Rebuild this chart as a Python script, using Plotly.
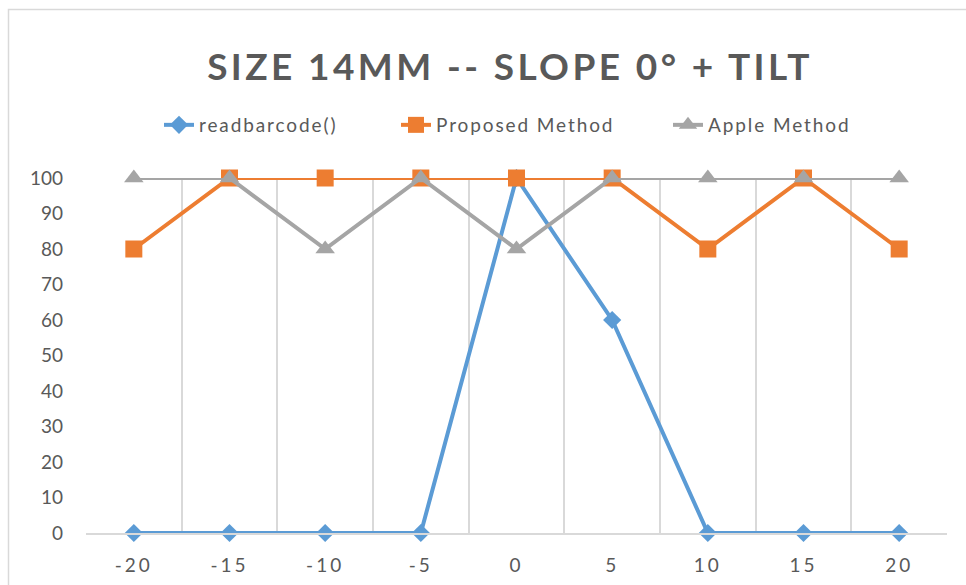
import plotly.graph_objects as go

# Tilt angles (degrees) and read success rates (%)
angles = [-20, -15, -10, -5, 0, 5, 10, 15, 20]
readbarcode = [0, 0, 0, 0, 100, 60, 0, 0, 0]
proposed = [80, 100, 100, 100, 100, 100, 80, 100, 80]
apple = [100, 100, 80, 100, 80, 100, 100, 100, 100]
y_ticks = [0, 10, 20, 30, 40, 50, 60, 70, 80, 90, 100]

TEXT = "#595959"
GRID = "#D9D9D9"
FONT = "Lato, 'Open Sans', sans-serif"

cats = [str(a) for a in angles]

W, H = 966, 585
L, R, T, B = 86, 19, 178, 52
pw, ph = W - L - R, H - T - B


def px_x(x):
    return (x - L) / pw


def px_y(y):
    return (H - B - y) / ph


# name, values, colour, marker, marker size, legend id, legend left edge (px)
series = [
    ("readbarcode()", readbarcode, "#5B9BD5", "diamond", 14, "legend", 159),
    ("Proposed Method", proposed, "#ED7D31", "square", 17, "legend2", 396),
    ("Apple Method", apple, "#A5A5A5", "triangle-up", 17, "legend3", 668),
]

fig = go.Figure()
for name, vals, color, symbol, size, leg, _ in series:
    fig.add_trace(go.Scatter(
        x=cats, y=vals, name=name, mode="lines+markers",
        line=dict(color=color, width=4),
        marker=dict(symbol=symbol, size=size, color=color, line=dict(width=0)),
        cliponaxis=False, legend=leg,
    ))

legend_style = dict(
    orientation="h", xanchor="left", y=px_y(125), yanchor="middle",
    font=dict(size=19, color=TEXT, family=FONT),
    bgcolor="rgba(0,0,0,0)", borderwidth=0,
    entrywidth=230, entrywidthmode="pixels",
)
legends = {leg: dict(legend_style, x=px_x(left)) for _, _, _, _, _, leg, left in series}

fig.update_layout(
    width=W, height=H,
    margin=dict(l=L, r=R, t=T, b=B),
    paper_bgcolor="white", plot_bgcolor="white",
    font=dict(family=FONT, color=TEXT, size=19),
    title=dict(
        text="<b>SIZE 14MM -- SLOPE 0° + TILT</b>",
        font=dict(family=FONT, size=37, color=TEXT),
        x=510 / W, xanchor="center", y=1 - 67 / H, yanchor="middle",
    ),
    xaxis=dict(
        type="category", range=[-0.5, len(cats) - 0.5],
        tickmode="array", tickvals=cats, ticktext=cats,
        tickson="boundaries", ticks="",
        showgrid=True, gridcolor=GRID, gridwidth=1.5,
        showline=True, linecolor=GRID, linewidth=1.5,
        ticklabelstandoff=14, tickfont=dict(size=19, color=TEXT),
        zeroline=False, fixedrange=True, automargin=False,
    ),
    yaxis=dict(
        range=[0, 100], tickmode="array", tickvals=y_ticks,
        showgrid=False, zeroline=False, showline=False, ticks="",
        ticklabelstandoff=22, tickfont=dict(size=19, color=TEXT),
        fixedrange=True, automargin=False,
    ),
    showlegend=True,
    **legends,
)

# Outer chart frame
fig.add_shape(
    type="rect", xref="paper", yref="paper",
    x0=px_x(8.5), x1=px_x(W + 20), y0=px_y(H + 20), y1=px_y(9.5),
    line=dict(color=GRID, width=1.5), fillcolor="rgba(0,0,0,0)", layer="below",
)

# Wide letter spacing for the title, category labels and legend text
spacing_js = """
var css = document.createElement('style');
css.textContent =
  '.gtitle { letter-spacing: 3.4px; }' +
  '.xtick text { letter-spacing: 3px; }' +
  '.legendtext, [class*="legend"] text { letter-spacing: 1.9px !important; }';
document.head.appendChild(css);
"""

fig.write_html("out.html", post_script=spacing_js)
